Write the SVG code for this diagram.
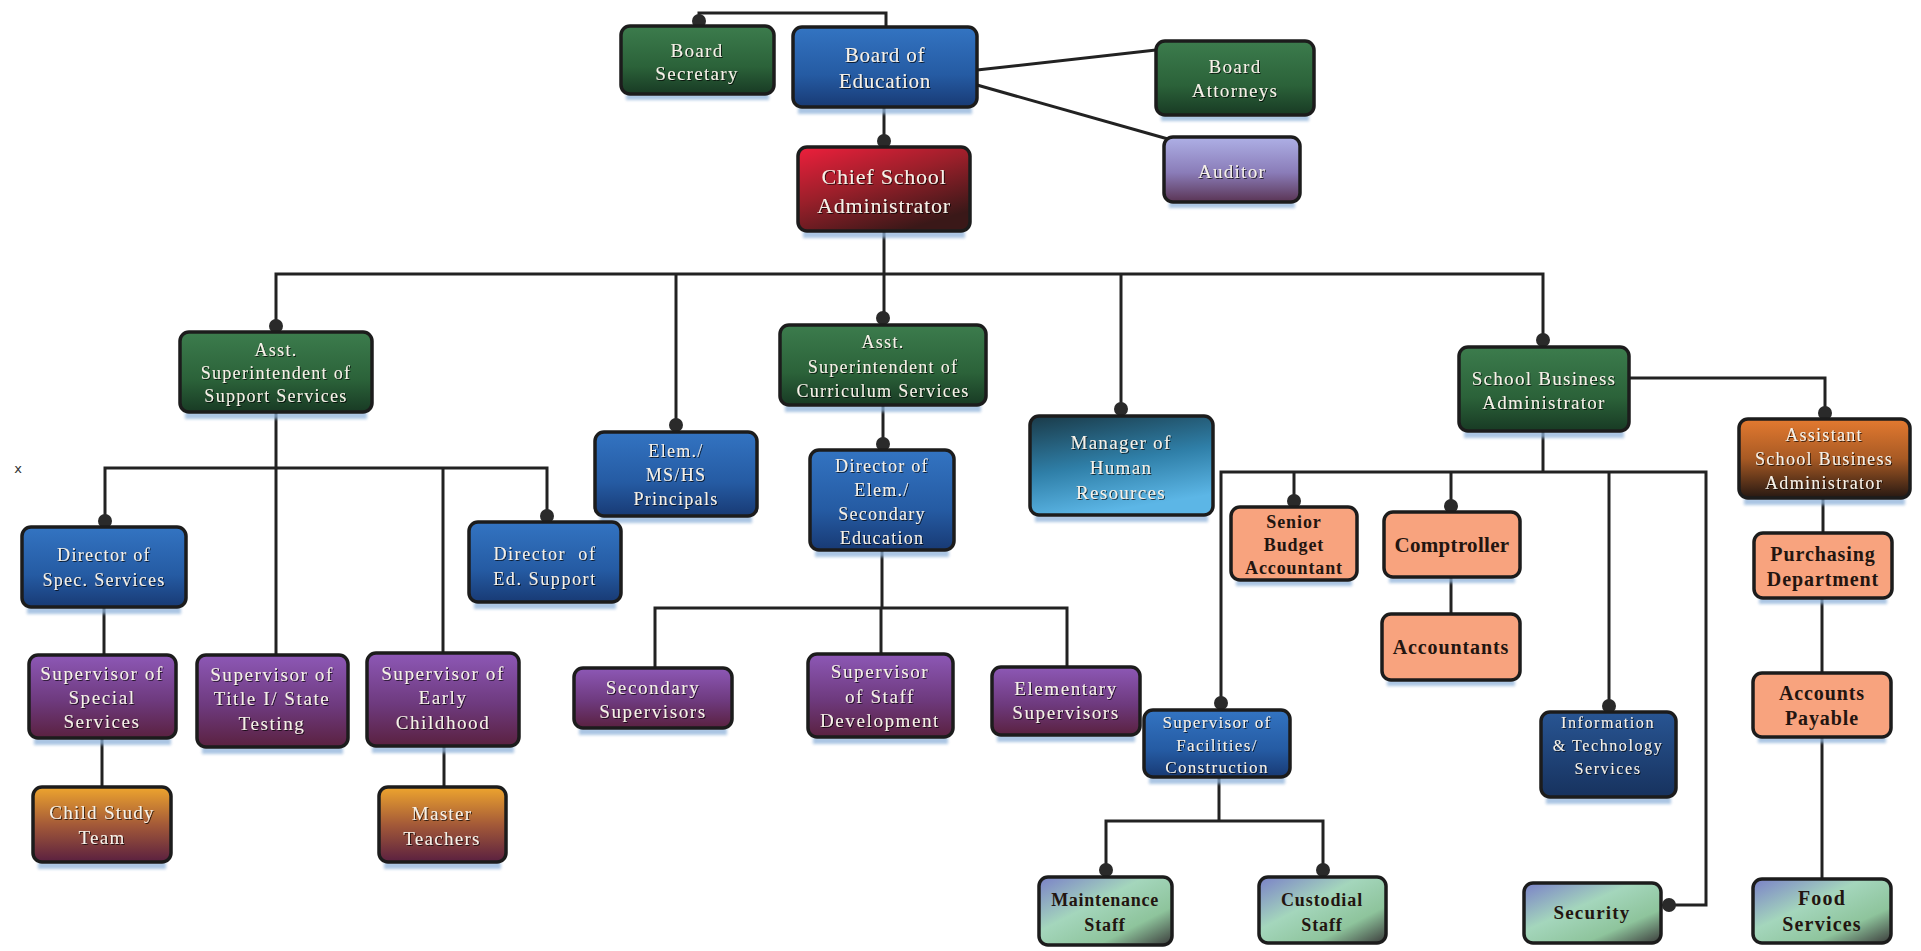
<svg xmlns="http://www.w3.org/2000/svg" width="1921" height="951" viewBox="0 0 1921 951">
<defs>
  <linearGradient id="gGreen" x1="0" y1="0" x2="0" y2="1"><stop offset="0" stop-color="#3c7c4d"/><stop offset="0.6" stop-color="#2b6239"/><stop offset="1" stop-color="#183a24"/></linearGradient>
  <linearGradient id="gBlue" x1="0" y1="0" x2="0" y2="1"><stop offset="0" stop-color="#3374c2"/><stop offset="0.6" stop-color="#255ba3"/><stop offset="1" stop-color="#183a74"/></linearGradient>
  <linearGradient id="gDBlue" x1="0" y1="0" x2="0" y2="1"><stop offset="0" stop-color="#285593"/><stop offset="1" stop-color="#17325e"/></linearGradient>
  <linearGradient id="gRed" x1="0" y1="0" x2="0.6" y2="1"><stop offset="0" stop-color="#ee1f3c"/><stop offset="0.5" stop-color="#9a1f2a"/><stop offset="1" stop-color="#3a1818"/></linearGradient>
  <linearGradient id="gAud" x1="0" y1="0" x2="0" y2="1"><stop offset="0" stop-color="#aeb0e6"/><stop offset="0.55" stop-color="#8a7cb8"/><stop offset="1" stop-color="#5a3454"/></linearGradient>
  <linearGradient id="gPurple" x1="0" y1="0" x2="0" y2="1"><stop offset="0" stop-color="#8d58b6"/><stop offset="0.55" stop-color="#6e3a7e"/><stop offset="1" stop-color="#5a2140"/></linearGradient>
  <linearGradient id="gGold" x1="0" y1="0" x2="0" y2="1"><stop offset="0" stop-color="#eea52e"/><stop offset="0.5" stop-color="#a45a38"/><stop offset="1" stop-color="#5a2040"/></linearGradient>
  <linearGradient id="gTeal" x1="0" y1="0" x2="0.3" y2="1"><stop offset="0" stop-color="#1a3a48"/><stop offset="0.55" stop-color="#2f7fa8"/><stop offset="1" stop-color="#5cb6e6"/></linearGradient>
  <linearGradient id="gOrange" x1="0" y1="0" x2="0" y2="1"><stop offset="0" stop-color="#e47a30"/><stop offset="0.5" stop-color="#a85a24"/><stop offset="1" stop-color="#261812"/></linearGradient>
  <linearGradient id="gMint" x1="0" y1="0" x2="1" y2="1"><stop offset="0" stop-color="#7a80c8"/><stop offset="0.4" stop-color="#a4d6bc"/><stop offset="0.72" stop-color="#8ec49c"/><stop offset="1" stop-color="#3a3a3a"/></linearGradient>
  <filter id="ts" x="-10%" y="-30%" width="120%" height="160%"><feDropShadow dx="1" dy="1" stdDeviation="0.6" flood-color="#000" flood-opacity="0.7"/></filter>
  <filter id="blur" x="-10%" y="-100%" width="120%" height="300%"><feGaussianBlur stdDeviation="1.5"/></filter>
</defs>
<style>
  .b{stroke:#1c1c1c;stroke-width:3.5}
  .sh{fill:#8fb2da;opacity:0.75;filter:url(#blur)}
  .green{fill:url(#gGreen)} .blue{fill:url(#gBlue)} .dblue{fill:url(#gDBlue)} .red{fill:url(#gRed)}
  .aud{fill:url(#gAud)} .purple{fill:url(#gPurple)} .gold{fill:url(#gGold)} .teal{fill:url(#gTeal)}
  .orange{fill:url(#gOrange)} .salmon{fill:#f8a37e} .mint{fill:url(#gMint)}
  text{font-family:"Liberation Serif","DejaVu Serif",serif;text-anchor:middle}
  .w{fill:#f6f1e8;filter:url(#ts);letter-spacing:1.3px}
  .t{letter-spacing:0.8px}
  .p{letter-spacing:1.6px}
  .k{fill:#231510;font-weight:bold;letter-spacing:0.9px}
  .c{fill:none;stroke:#222;stroke-width:3}
  .d{fill:#2a2a2a}
</style>
<rect width="1921" height="951" fill="#ffffff"/>

<g id="connectors">
  <path class="c" d="M699 26 V13 H886 V27"/>
  <path class="c" d="M884 107 V147"/>
  <path class="c" d="M977 70 L1156 50"/>
  <path class="c" d="M977 85 L1168 139"/>
  <path class="c" d="M884 231 V325"/>
  <path class="c" d="M276 332 V274 H1543 V347"/>
  <path class="c" d="M676 274 V432"/>
  <path class="c" d="M1121 274 V416"/>
  <path class="c" d="M883 405 V450"/>
  <path class="c" d="M882 550 V608"/>
  <path class="c" d="M655 668 V608 H1067 V667"/>
  <path class="c" d="M881 608 V654"/>
  <path class="c" d="M276 412 V655"/>
  <path class="c" d="M105 527 V468 H547 V522"/>
  <path class="c" d="M443 468 V653"/>
  <path class="c" d="M104 607 V655"/>
  <path class="c" d="M102 738 V787"/>
  <path class="c" d="M444 746 V787"/>
  <path class="c" d="M1629 378 H1825 V419"/>
  <path class="c" d="M1823 498 V533"/>
  <path class="c" d="M1822 598 V673"/>
  <path class="c" d="M1822 737 V879"/>
  <path class="c" d="M1543 431 V472"/>
  <path class="c" d="M1221 710 V472 H1706 V905 H1668"/>
  <path class="c" d="M1294 472 V507"/>
  <path class="c" d="M1451 472 V512"/>
  <path class="c" d="M1451 577 V614"/>
  <path class="c" d="M1609 472 V712"/>
  <path class="c" d="M1219 777 V821"/>
  <path class="c" d="M1106 877 V821 H1323 V877"/>
  <circle class="d" cx="699" cy="21" r="7"/>
  <circle class="d" cx="884" cy="141" r="7"/>
  <circle class="d" cx="276" cy="326" r="7"/>
  <circle class="d" cx="676" cy="425" r="7"/>
  <circle class="d" cx="883" cy="318" r="7"/>
  <circle class="d" cx="883" cy="444" r="7"/>
  <circle class="d" cx="1121" cy="409" r="7"/>
  <circle class="d" cx="1543" cy="340" r="7"/>
  <circle class="d" cx="1825" cy="413" r="7"/>
  <circle class="d" cx="105" cy="521" r="7"/>
  <circle class="d" cx="547" cy="516" r="7"/>
  <circle class="d" cx="1294" cy="501" r="7"/>
  <circle class="d" cx="1451" cy="506" r="7"/>
  <circle class="d" cx="1221" cy="703" r="7"/>
  <circle class="d" cx="1609" cy="706" r="7"/>
  <circle class="d" cx="1106" cy="870" r="7"/>
  <circle class="d" cx="1323" cy="870" r="7"/>
  <circle class="d" cx="1669" cy="905" r="7"/>
</g>

<text x="18" y="473" style="font-family:'DejaVu Sans',sans-serif;font-size:13px;fill:#333">x</text>

<g id="board-secretary"><rect class="sh" x="626" y="94" width="143" height="6"/><rect class="b green" x="621" y="26" width="153" height="68" rx="9"/><text class="w" x="697" y="57" font-size="19">Board</text><text class="w" x="697" y="80" font-size="19">Secretary</text></g>
<g id="board-of-education"><rect class="sh" x="798" y="107" width="174" height="7"/><rect class="b blue" x="793" y="27" width="184" height="80" rx="9"/><text class="w t" x="885" y="62" font-size="21">Board of</text><text class="w t" x="885" y="88" font-size="21">Education</text></g>
<g id="board-attorneys"><rect class="sh" x="1161" y="115" width="148" height="6"/><rect class="b green" x="1156" y="41" width="158" height="74" rx="9"/><text class="w" x="1235" y="73" font-size="19">Board</text><text class="w" x="1235" y="97" font-size="19">Attorneys</text></g>
<g id="auditor"><rect class="sh" x="1169" y="202" width="126" height="6"/><rect class="b aud" x="1164" y="137" width="136" height="65" rx="9"/><text class="w" x="1232" y="178" font-size="19">Auditor</text></g>
<g id="chief-school-administrator"><rect class="sh" x="803" y="231" width="162" height="7"/><rect class="b red" x="798" y="147" width="172" height="84" rx="9"/><text class="w t" x="884" y="184" font-size="22">Chief School</text><text class="w t" x="884" y="213" font-size="22">Administrator</text></g>

<g id="asst-supt-support"><rect class="sh" x="185" y="412" width="182" height="7"/><rect class="b green" x="180" y="332" width="192" height="80" rx="9"/><text class="w" x="276" y="356" font-size="18">Asst.</text><text class="w" x="276" y="379" font-size="18">Superintendent of</text><text class="w" x="276" y="402" font-size="18">Support Services</text></g>
<g id="principals"><rect class="sh" x="600" y="516" width="152" height="7"/><rect class="b blue" x="595" y="432" width="162" height="84" rx="9"/><text class="w" x="676" y="457" font-size="18">Elem./</text><text class="w" x="676" y="481" font-size="18">MS/HS</text><text class="w" x="676" y="505" font-size="18">Principals</text></g>
<g id="asst-supt-curriculum"><rect class="sh" x="785" y="405" width="196" height="7"/><rect class="b green" x="780" y="325" width="206" height="80" rx="9"/><text class="w" x="883" y="348" font-size="18">Asst.</text><text class="w" x="883" y="373" font-size="18">Superintendent of</text><text class="w" x="883" y="397" font-size="18">Curriculum Services</text></g>
<g id="director-elem-secondary"><rect class="sh" x="815" y="550" width="134" height="7"/><rect class="b blue" x="810" y="450" width="144" height="100" rx="9"/><text class="w" x="882" y="472" font-size="18">Director of</text><text class="w" x="882" y="496" font-size="18">Elem./</text><text class="w" x="882" y="520" font-size="18">Secondary</text><text class="w" x="882" y="544" font-size="18">Education</text></g>
<g id="manager-hr"><rect class="sh" x="1035" y="515" width="173" height="7"/><rect class="b teal" x="1030" y="416" width="183" height="99" rx="9"/><text class="w" x="1121" y="449" font-size="19">Manager of</text><text class="w" x="1121" y="474" font-size="19">Human</text><text class="w" x="1121" y="499" font-size="19">Resources</text></g>
<g id="school-business-administrator"><rect class="sh" x="1464" y="431" width="160" height="7"/><rect class="b green" x="1459" y="347" width="170" height="84" rx="9"/><text class="w" x="1544" y="385" font-size="19">School Business</text><text class="w" x="1544" y="409" font-size="19">Administrator</text></g>
<g id="assistant-sba"><rect class="sh" x="1744" y="498" width="161" height="7"/><rect class="b orange" x="1739" y="419" width="171" height="79" rx="9"/><text class="w" x="1824" y="441" font-size="18">Assistant</text><text class="w" x="1824" y="465" font-size="18">School Business</text><text class="w" x="1824" y="489" font-size="18">Administrator</text></g>

<g id="director-spec-services"><rect class="sh" x="27" y="607" width="154" height="7"/><rect class="b blue" x="22" y="527" width="164" height="80" rx="9"/><text class="w" x="104" y="561" font-size="18">Director of</text><text class="w" x="104" y="586" font-size="18">Spec. Services</text></g>
<g id="director-ed-support"><rect class="sh" x="474" y="602" width="142" height="7"/><rect class="b blue" x="469" y="522" width="152" height="80" rx="9"/><text class="w p" x="545" y="560" font-size="18" xml:space="preserve">Director  of</text><text class="w p" x="545" y="585" font-size="18">Ed. Support</text></g>

<g id="senior-budget-accountant"><rect class="sh" x="1236" y="580" width="116" height="6"/><rect class="b salmon" x="1231" y="507" width="126" height="73" rx="9"/><text class="k" x="1294" y="528" font-size="18">Senior</text><text class="k" x="1294" y="551" font-size="18">Budget</text><text class="k" x="1294" y="574" font-size="18">Accountant</text></g>
<g id="comptroller"><rect class="sh" x="1389" y="577" width="126" height="6"/><rect class="b salmon" x="1384" y="512" width="136" height="65" rx="9"/><text class="k" x="1452" y="552" font-size="21" style="letter-spacing:0.3px">Comptroller</text></g>
<g id="accountants"><rect class="sh" x="1387" y="680" width="128" height="6"/><rect class="b salmon" x="1382" y="614" width="138" height="66" rx="9"/><text class="k" x="1451" y="654" font-size="20">Accountants</text></g>
<g id="purchasing-department"><rect class="sh" x="1759" y="598" width="128" height="6"/><rect class="b salmon" x="1754" y="533" width="138" height="65" rx="9"/><text class="k" x="1823" y="561" font-size="20">Purchasing</text><text class="k" x="1823" y="586" font-size="20">Department</text></g>
<g id="accounts-payable"><rect class="sh" x="1758" y="737" width="128" height="6"/><rect class="b salmon" x="1753" y="673" width="138" height="64" rx="9"/><text class="k" x="1822" y="700" font-size="20">Accounts</text><text class="k" x="1822" y="725" font-size="20">Payable</text></g>

<g id="sup-special-services"><rect class="sh" x="34" y="738" width="137" height="7"/><rect class="b purple" x="29" y="655" width="147" height="83" rx="9"/><text class="w p" x="102" y="680" font-size="19">Supervisor of</text><text class="w p" x="102" y="704" font-size="19">Special</text><text class="w p" x="102" y="728" font-size="19">Services</text></g>
<g id="sup-title-testing"><rect class="sh" x="202" y="747" width="141" height="7"/><rect class="b purple" x="197" y="655" width="151" height="92" rx="9"/><text class="w p" x="272" y="681" font-size="19">Supervisor of</text><text class="w p" x="272" y="705" font-size="19">Title I/ State</text><text class="w p" x="272" y="730" font-size="19">Testing</text></g>
<g id="sup-early-childhood"><rect class="sh" x="372" y="746" width="142" height="7"/><rect class="b purple" x="367" y="653" width="152" height="93" rx="9"/><text class="w p" x="443" y="680" font-size="19">Supervisor of</text><text class="w p" x="443" y="704" font-size="19">Early</text><text class="w p" x="443" y="729" font-size="19">Childhood</text></g>
<g id="secondary-supervisors"><rect class="sh" x="579" y="728" width="148" height="7"/><rect class="b purple" x="574" y="668" width="158" height="60" rx="9"/><text class="w p" x="653" y="694" font-size="19">Secondary</text><text class="w p" x="653" y="718" font-size="19">Supervisors</text></g>
<g id="sup-staff-development"><rect class="sh" x="813" y="737" width="135" height="7"/><rect class="b purple" x="808" y="654" width="145" height="83" rx="9"/><text class="w p" x="880" y="678" font-size="19">Supervisor</text><text class="w p" x="880" y="703" font-size="19">of Staff</text><text class="w p" x="880" y="727" font-size="19">Development</text></g>
<g id="elementary-supervisors"><rect class="sh" x="997" y="735" width="138" height="7"/><rect class="b purple" x="992" y="667" width="148" height="68" rx="9"/><text class="w p" x="1066" y="695" font-size="19">Elementary</text><text class="w p" x="1066" y="719" font-size="19">Supervisors</text></g>
<g id="sup-facilities"><rect class="sh" x="1149" y="777" width="136" height="7"/><rect class="b blue" x="1144" y="710" width="146" height="67" rx="9"/><text class="w" x="1217" y="728" font-size="17">Supervisor of</text><text class="w" x="1217" y="751" font-size="17">Facilities/</text><text class="w" x="1217" y="773" font-size="17">Construction</text></g>
<g id="info-tech-services"><rect class="sh" x="1546" y="797" width="125" height="7"/><rect class="b dblue" x="1541" y="712" width="135" height="85" rx="9"/><text class="w p" x="1608" y="728" font-size="16">Information</text><text class="w p" x="1608" y="751" font-size="16">&amp; Technology</text><text class="w p" x="1608" y="774" font-size="16">Services</text></g>

<g id="child-study-team"><rect class="sh" x="38" y="862" width="128" height="7"/><rect class="b gold" x="33" y="787" width="138" height="75" rx="9"/><text class="w" x="102" y="819" font-size="19">Child Study</text><text class="w" x="102" y="844" font-size="19">Team</text></g>
<g id="master-teachers"><rect class="sh" x="384" y="862" width="117" height="7"/><rect class="b gold" x="379" y="787" width="127" height="75" rx="9"/><text class="w" x="442" y="820" font-size="19">Master</text><text class="w" x="442" y="845" font-size="19">Teachers</text></g>

<g id="maintenance-staff"><rect class="b mint" x="1039" y="877" width="133" height="68" rx="9"/><text class="k" x="1105" y="906" font-size="18" style="letter-spacing:0.7px">Maintenance</text><text class="k" x="1105" y="931" font-size="18">Staff</text></g>
<g id="custodial-staff"><rect class="b mint" x="1259" y="877" width="127" height="66" rx="9"/><text class="k" x="1322" y="906" font-size="18">Custodial</text><text class="k" x="1322" y="931" font-size="18">Staff</text></g>
<g id="security"><rect class="b mint" x="1524" y="883" width="137" height="60" rx="9"/><text class="k" x="1592" y="919" font-size="19" style="letter-spacing:1.2px">Security</text></g>
<g id="food-services"><rect class="b mint" x="1753" y="879" width="138" height="64" rx="9"/><text class="k" x="1822" y="905" font-size="20" style="letter-spacing:1.2px">Food</text><text class="k" x="1822" y="931" font-size="20" style="letter-spacing:1.2px">Services</text></g>
</svg>
